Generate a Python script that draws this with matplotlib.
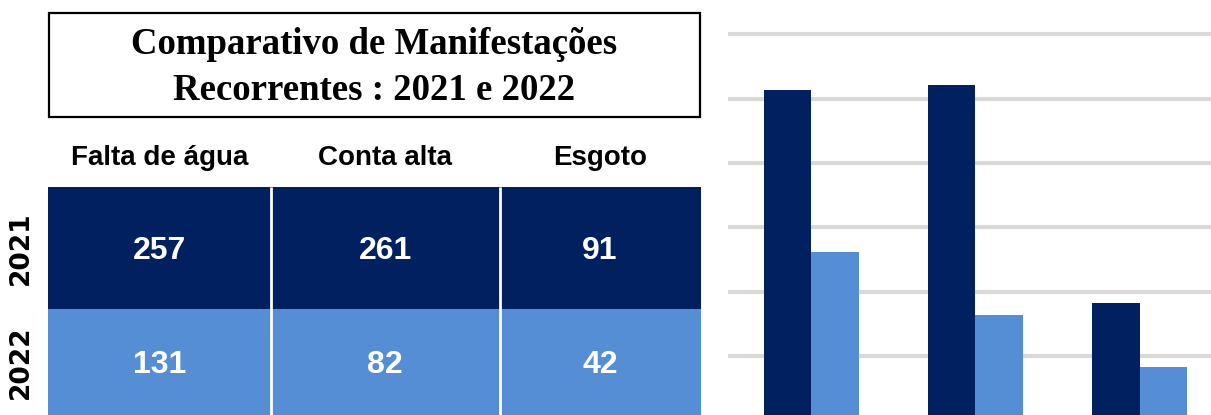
import matplotlib
matplotlib.use("Agg")
import matplotlib.pyplot as plt
from matplotlib.patches import Rectangle

# ---- data ----
categories = ["Falta de água", "Conta alta", "Esgoto"]
years = ["2021", "2022"]
values_2021 = [257, 261, 91]
values_2022 = [131, 82, 42]
title_lines = ["Comparativo de Manifestações", "Recorrentes : 2021 e 2022"]
grid_ticks = [50, 100, 150, 200, 250, 300]

# ---- style ----
DARK = "#002060"
LIGHT = "#558ED5"
GRID = "#D9D9D9"
W, H = 1211, 415
DPI = 100

fig = plt.figure(figsize=(W / DPI, H / DPI), dpi=DPI)

# ---------------- left: table (pixel coordinate axes) ----------------
ax_t = fig.add_axes([0, 0, 1, 1])
ax_t.set_xlim(0, W)
ax_t.set_ylim(H, 0)
ax_t.axis("off")

# title box
box_l, box_r, box_t, box_b = 49, 700, 13, 117
ax_t.add_patch(Rectangle((box_l, box_t), box_r - box_l, box_b - box_t,
                         facecolor="white", edgecolor="black", lw=1.6))
title_font = dict(family=["Liberation Serif", "DejaVu Serif"], weight="bold",
                  size=26.5, color="black", ha="center", va="center")
ax_t.text((box_l + box_r) / 2, 45, title_lines[0], **title_font)
ax_t.text((box_l + box_r) / 2, 91, title_lines[1], **title_font)

# table grid
col_edges = [48, 270.7, 499.5, 700.5]
row_edges = [187.5, 308.5, 430]
rows = [values_2021, values_2022]
row_colors = [DARK, LIGHT]
sans = ["Liberation Sans", "DejaVu Sans"]

for j, cat in enumerate(categories):
    cx = (col_edges[j] + col_edges[j + 1]) / 2
    ax_t.text(cx, 158, cat, family=sans, weight="bold", size=20,
              ha="center", va="center", color="black")
    for i, vals in enumerate(rows):
        ax_t.add_patch(Rectangle((col_edges[j], row_edges[i]),
                                 col_edges[j + 1] - col_edges[j],
                                 row_edges[i + 1] - row_edges[i],
                                 facecolor=row_colors[i], edgecolor="none"))
        cy = (row_edges[i] + min(row_edges[i + 1], H)) / 2
        ax_t.text(cx, cy + 3, str(vals[j]), family=sans, weight="bold",
                  size=23, ha="center", va="center", color="white")

# white separators between columns
for x in col_edges[1:-1]:
    ax_t.plot([x, x], [row_edges[0], H], color="white", lw=2, solid_capstyle="butt")

for i, y in enumerate(years):
    cy = (row_edges[i] + min(row_edges[i + 1], H)) / 2
    ax_t.text(21, cy, y, family="DejaVu Sans", weight="bold", size=19,
              rotation=90, ha="center", va="center", color="black")

# ---------------- right: bar chart ----------------
px_per_unit = 1.2876
y_top = 300 + 34.3 / px_per_unit
y_bot = y_top - H / px_per_unit
x0_px, center0_px, spacing_px = 728, 811, 164.25
ax_b = fig.add_axes([x0_px / W, 0, (W - x0_px) / W, 1])
xs = list(range(len(categories)))
bw = 47.5 / spacing_px
ax_b.bar([x - bw / 2 for x in xs], values_2021, width=bw, color=DARK, zorder=3)
ax_b.bar([x + bw / 2 for x in xs], values_2022, width=bw, color=LIGHT, zorder=3)
ax_b.set_xlim(-(center0_px - x0_px) / spacing_px, (W - center0_px) / spacing_px)
ax_b.set_ylim(y_bot, y_top)
for g in grid_ticks:
    ax_b.axhline(g, color=GRID, lw=3, zorder=1)
ax_b.axis("off")

fig.savefig("out.png", dpi=DPI)
